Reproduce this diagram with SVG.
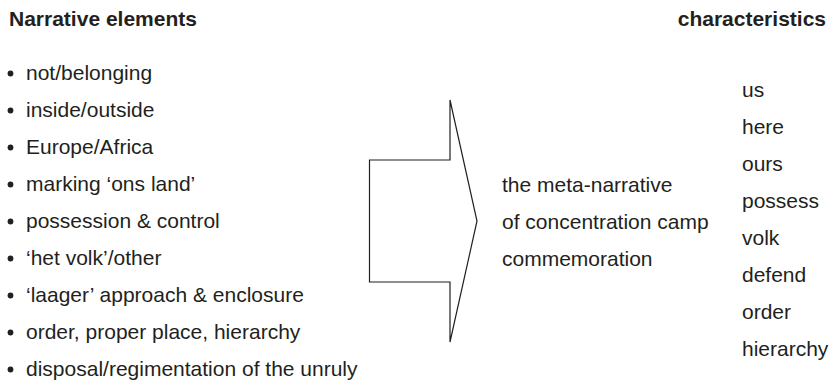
<svg xmlns="http://www.w3.org/2000/svg" width="829" height="382" viewBox="0 0 829 382">
<style>
text{font-family:"Liberation Sans",Arial,Helvetica,sans-serif;font-size:21px;fill:#231f20}
.h{font-weight:bold}
.b{fill:#231f20}
.arrow{fill:none;stroke:#231f20;stroke-width:1.2;stroke-linejoin:miter}
</style>
<rect width="829" height="382" fill="#fff"/>
<g id="header-left"><text class="h" x="9" y="26">Narrative elements</text></g>
<g id="header-right"><text class="h" x="826" y="26" text-anchor="end">characteristics</text></g>
<g id="elements">
<circle class="b" cx="10.5" cy="73.5" r="2.9"/><text x="26" y="79.5">not/belonging</text>
<circle class="b" cx="10.5" cy="110.5" r="2.9"/><text x="26" y="116.5">inside/outside</text>
<circle class="b" cx="10.5" cy="147.5" r="2.9"/><text x="26" y="153.5">Europe/Africa</text>
<circle class="b" cx="10.5" cy="184.5" r="2.9"/><text x="26" y="190.5">marking ‘ons land’</text>
<circle class="b" cx="10.5" cy="221.5" r="2.9"/><text x="26" y="227.5">possession &amp; control</text>
<circle class="b" cx="10.5" cy="258.5" r="2.9"/><text x="26" y="264.5">‘het volk’/other</text>
<circle class="b" cx="10.5" cy="295.5" r="2.9"/><text x="26" y="301.5">‘laager’ approach &amp; enclosure</text>
<circle class="b" cx="10.5" cy="332.5" r="2.9"/><text x="26" y="338.5">order, proper place, hierarchy</text>
<circle class="b" cx="10.5" cy="369.5" r="2.9"/><text x="26" y="375.5">disposal/regimentation of the unruly</text>
</g>
<g id="connectors">
<path class="arrow" d="M369.5,160 H450 V100 L477,221 L450,342 V282 H369.5 Z"/>
</g>
<g id="meta-narrative">
<text x="502" y="192">the meta-narrative</text>
<text x="502" y="229">of concentration camp</text>
<text x="502" y="266">commemoration</text>
</g>
<g id="characteristics">
<text x="742" y="97">us</text>
<text x="742" y="134">here</text>
<text x="742" y="171">ours</text>
<text x="742" y="208">possess</text>
<text x="742" y="245">volk</text>
<text x="742" y="282">defend</text>
<text x="742" y="319">order</text>
<text x="742" y="356">hierarchy</text>
</g>
</svg>
